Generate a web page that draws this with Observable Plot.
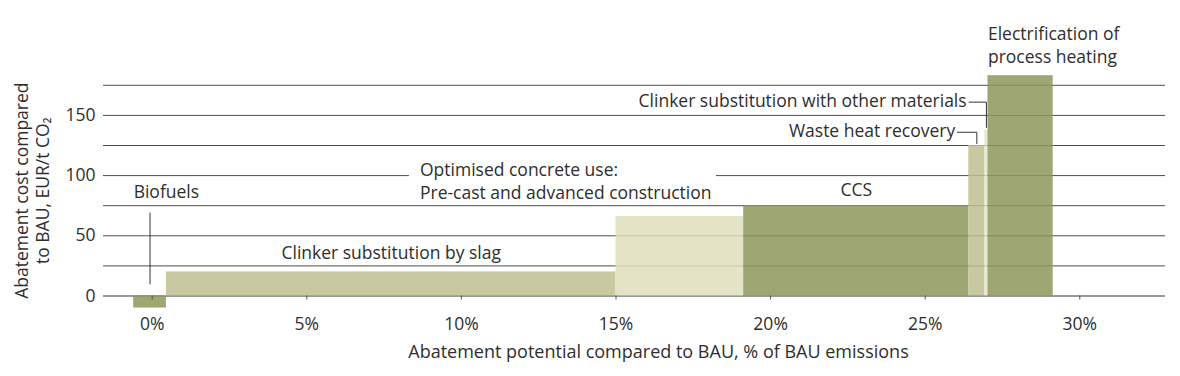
<!DOCTYPE html>
<html><head><meta charset="utf-8">
<script src="https://cdn.jsdelivr.net/npm/d3@7"></script>
<script src="https://cdn.jsdelivr.net/npm/@observablehq/plot@0.6"></script>
<style>body{margin:0;background:#fff;}</style>
</head><body><div id="chart"></div>
<script>
// ---- data ----
const categories = ["Biofuels", "Clinker substitution by slag", "Optimised concrete use", "CCS",
  "Waste heat recovery", "Clinker substitution with other materials", "Electrification of process heating"];
const potentialStart = [-0.6, 0.46, 15.0, 19.13, 26.41, 26.93, 27.03];   // % of BAU emissions
const potentialEnd   = [0.46, 15.0, 19.13, 26.41, 26.93, 27.03, 29.14];
const cost           = [-10, 20, 66, 75, 125, 137.5, 183];              // EUR/t CO2
const shade          = ["dark", "mid", "light", "dark", "mid", "pale", "dark"];
const xTicks = [0, 5, 10, 15, 20, 25, 30];
const yTicks = [0, 50, 100, 150];
const gridValues = [0, 25, 50, 75, 100, 125, 150, 175];

// annotation texts and anchors (data units)
const labelText = ["Biofuels", "Clinker substitution by slag", "Optimised concrete use:\nPre-cast and advanced construction",
  "CCS", "Waste heat recovery", "Clinker substitution with other materials", "Electrification of\nprocess heating"];
const labelX = [-0.6, 7.73, 8.66, 22.77, 25.97, 26.34, 27.03];
const labelY = [87.5, 35, 96, 87.5, 136.5, 161.5, 209.5];
const labelAnchor = ["start", "middle", "start", "middle", "end", "end", "start"];
// gridline interrupted behind the boxed label (value, gap start %, gap end %)
const gapGrid = 100;
const gapFrom = 8.32;
const gapTo = 18.25;
// leader lines: [label index, start x, y at label, y at bar]
const leaderIndex = [0, 4, 5];
const leaderStartX = [null, 26.04, 26.42];
const leaderLabelY = [69, 136, 161];
const leaderBarY = [10, 126.5, 140];

// ---- layout ----
const W = 1180, H = 376, mL = 103, mR = 15;
const xDomain = [0, 30], xRange = [151.7, 1079.3];
const xInv = d3.scaleLinear(xDomain, xRange);
const frameLeft = xInv.invert(mL), frameRight = xInv.invert(W - mR);

// ---- build tables ----
const bars = categories.map((c, i) => ({c, x1: potentialStart[i], x2: potentialEnd[i], y: cost[i], shade: shade[i]}));
const labels = labelText.map((t, i) => ({t, x: labelX[i], y: labelY[i], a: labelAnchor[i]}));
const gapSegments = [{y: gapGrid, x1: frameLeft, x2: gapFrom}, {y: gapGrid, x1: gapTo, x2: frameRight}];
const leaders = [];
leaderIndex.forEach((k, j) => {
  const mid = (potentialStart[k] + potentialEnd[k]) / 2;
  if (leaderStartX[j] != null) leaders.push({k, x: leaderStartX[j], y: leaderLabelY[j]});
  leaders.push({k, x: mid, y: leaderLabelY[j]});
  leaders.push({k, x: mid, y: leaderBarY[j]});
});

const textColor = "#2e2e2e";
const gridColor = "#4d4d4d";
const font = "'Open Sans', sans-serif";
const fs = 17.5;

const chart = Plot.plot({
  width: W,
  height: H,
  marginLeft: mL,
  marginRight: mR,
  marginTop: 84.8,
  marginBottom: 80.5,
  style: {fontFamily: font, fontSize: fs + "px", color: textColor, background: "#fff"},
  x: {domain: xDomain, range: xRange},
  y: {domain: [0, 175], range: [295.5, 84.8]},
  color: {domain: ["dark", "mid", "light", "pale"], range: ["#8d965a", "#bebf8f", "#dedfbc", "#e4e5c8"]},
  marks: [
    Plot.ruleY(gridValues.filter(v => v !== gapGrid && v !== 0), {stroke: gridColor, strokeWidth: 1}),
    Plot.ruleY(gapSegments, {y: "y", x1: "x1", x2: "x2", stroke: gridColor, strokeWidth: 1}),
    Plot.ruleY([0], {stroke: "#333", strokeWidth: 1.2}),
    Plot.rectY(bars, {x1: "x1", x2: "x2", y1: 0, y2: "y", fill: "shade", fillOpacity: 0.85}),
    Plot.line(leaders, {x: "x", y: "y", z: "k", stroke: "#333", strokeWidth: 1}),
    Plot.text(labels.filter(d => d.a === "start"), {x: "x", y: "y", text: "t", textAnchor: "start", lineHeight: 1.31, fontSize: fs, fill: textColor}),
    Plot.text(labels.filter(d => d.a === "middle"), {x: "x", y: "y", text: "t", textAnchor: "middle", fontSize: fs, fill: textColor}),
    Plot.text(labels.filter(d => d.a === "end"), {x: "x", y: "y", text: "t", textAnchor: "end", fontSize: fs, fill: textColor}),
    Plot.axisX(xTicks, {tickFormat: d => d + "%", tickSize: 4, tickPadding: 18, stroke: "#555", label: null, fontSize: fs}),
    Plot.axisY(yTicks, {tickSize: 0, tickPadding: 8, label: null, fontSize: fs}),
    Plot.text(["Abatement cost compared\nto BAU, EUR/t CO₂"], {frameAnchor: "left", rotate: -90, dx: -72,
      lineHeight: 1.2, textAnchor: "middle", fill: textColor, fontSize: fs}),
    Plot.text(["Abatement potential compared to BAU, % of BAU emissions"], {frameAnchor: "bottom", dx: 24, dy: 62,
      textAnchor: "middle", fill: textColor, fontSize: 18})
  ]
});
document.getElementById("chart").appendChild(chart);
</script>
</body></html>
